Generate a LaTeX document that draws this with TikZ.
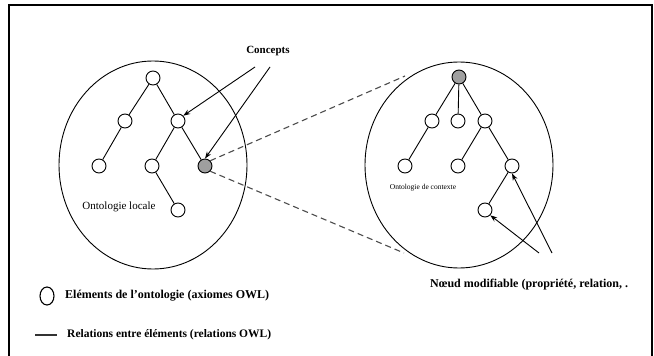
\documentclass[tikz,border=0pt]{standalone}
\usepackage{fontspec}
\setmainfont{Liberation Serif}
\usetikzlibrary{arrows.meta,shapes.geometric}
\begin{document}
\begin{tikzpicture}[x=1pt,y=-1pt,
  elem/.style={circle,draw,line width=0.9pt,fill=white,minimum size=14pt,inner sep=0pt},
  grayelem/.style={elem,fill=gray!75},
  rel/.style={line width=0.9pt},
  pointer/.style={line width=0.9pt,-{Stealth[length=7pt,width=5pt]}},
  link/.style={line width=1.1pt,dashed,dash pattern=on 6pt off 4pt,draw=black!70},
  lbl/.style={font=\bfseries\fontsize{11}{13}\selectfont,inner sep=0pt},
]
\useasboundingbox (0,0) rectangle (654,356);
\fill[white] (0,0) rectangle (654,356);
% frame (open at the bottom)
\draw[line width=1.8pt] (9,356) -- (9,5) -- (652,5) -- (652,356);

% circles
\node[ellipse,draw,line width=0.9pt,minimum width=188pt,minimum height=208pt,inner sep=0pt] (lc) at (153,165) {};
\node[ellipse,draw,line width=0.9pt,minimum width=188pt,minimum height=206pt,inner sep=0pt] (rc) at (459,165) {};

% left tree
\node[elem] (a1) at (153,78) {};
\node[elem] (a2) at (125,121) {};
\node[elem] (a3) at (178,121) {};
\node[elem] (a4) at (99,166) {};
\node[elem] (a5) at (152,166) {};
\node[grayelem] (a6) at (205,166) {};
\node[elem] (a7) at (178,210) {};
\draw[rel] (a1) -- (a2) (a1) -- (a3) (a2) -- (a4) (a3) -- (a5) (a3) -- (a6) (a5) -- (a7);
\node[font=\fontsize{11}{13}\selectfont,inner sep=0pt] (ll) at (119,207) {Ontologie locale};

% right tree
\node[grayelem] (b1) at (459,77) {};
\node[elem] (b2) at (432,121) {};
\node[elem] (b3) at (458,121) {};
\node[elem] (b4) at (485,121) {};
\node[elem] (b5) at (405,166) {};
\node[elem] (b6) at (458,166) {};
\node[elem] (b7) at (512,166) {};
\node[elem] (b8) at (485,210) {};
\draw[rel] (b1) -- (b2) (b1) -- (b3) (b1) -- (b4) (b2) -- (b5) (b4) -- (b6) (b4) -- (b7) (b7) -- (b8);
\node[font=\fontsize{7.5}{9}\selectfont,inner sep=0pt] (rl) at (423,188) {Ontologie de contexte};

% dashed zoom lines
\coordinate (u1) at (405,76);
\coordinate (u2) at (404,253);
\draw[link] (a6.north east) -- (u1);
\draw[link] (a6.south east) -- (u2);

% Concepts
\node[lbl] (cp) at (268,51) {Concepts};
\coordinate (c1) at (255,67);
\coordinate (c2) at (270,67);
\draw[pointer] (c1) -- (a3.north east);
\draw[pointer] (c2) -- (a6.north);

% Noeud modifiable
\node[lbl,font=\bfseries\fontsize{12}{14}\selectfont,anchor=west] (nm) at (430,285) {Nœud modifiable (propriété, relation, .};
\coordinate (n1) at (539,253);
\coordinate (n2) at (552,253);
\draw[pointer] (n1) -- (b8.south east);
\draw[pointer] (n2) -- (b7.south);

% legend
\node[ellipse,draw,line width=1.1pt,minimum width=14pt,minimum height=18pt,inner sep=0pt] (lg1) at (47,296) {};
\node[lbl,font=\bfseries\fontsize{12}{14}\selectfont,anchor=west] (lt1) at (65,296) {Eléments de l’ontologie (axiomes OWL)};
\coordinate (lg2a) at (35,335);
\coordinate (lg2b) at (57,335);
\draw[line width=1.4pt,black!80] (lg2a) -- (lg2b);
\node[lbl,font=\bfseries\fontsize{11.5}{13}\selectfont,anchor=west] (lt2) at (67,335) {Relations entre éléments (relations OWL)};
\end{tikzpicture}
\end{document}
